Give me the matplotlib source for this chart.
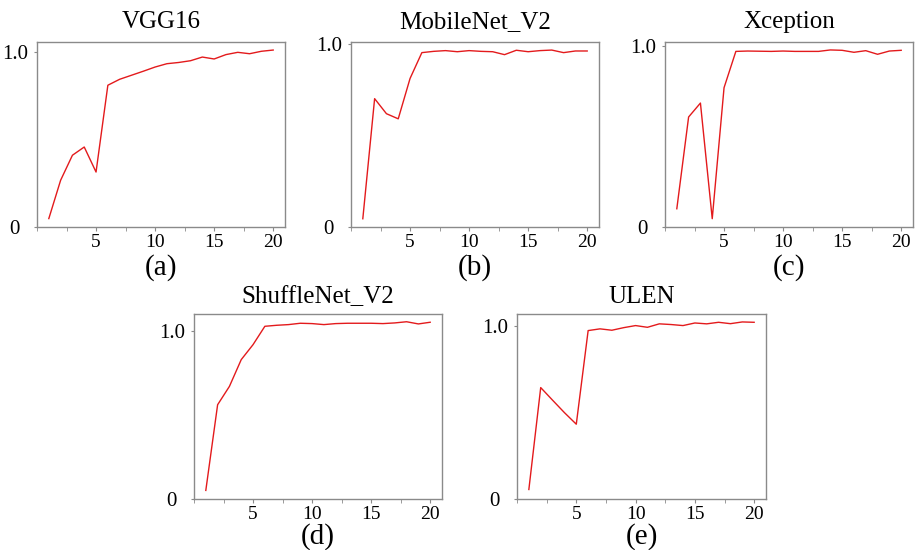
import matplotlib
matplotlib.use("Agg")
import matplotlib.pyplot as plt
from matplotlib.ticker import MultipleLocator

plt.rcParams['font.family'] = ['Liberation Serif', 'DejaVu Serif']

epochs = list(range(1, 21))

vgg16 = [0.048, 0.267, 0.41, 0.457, 0.314, 0.81, 0.844, 0.867, 0.89, 0.914,
         0.933, 0.94, 0.95, 0.971, 0.96, 0.985, 0.998, 0.99, 1.004, 1.011]
mobilenet_v2 = [0.045, 0.70, 0.618, 0.59, 0.81, 0.951, 0.958, 0.962, 0.956, 0.962,
                0.958, 0.956, 0.94, 0.964, 0.956, 0.962, 0.965, 0.951, 0.96, 0.96]
xception = [0.101, 0.609, 0.686, 0.046, 0.771, 0.972, 0.974, 0.973, 0.972, 0.974,
            0.972, 0.972, 0.972, 0.98, 0.978, 0.967, 0.976, 0.956, 0.974, 0.978]
shufflenet_v2 = [0.051, 0.56, 0.669, 0.828, 0.917, 1.026, 1.032, 1.036, 1.044, 1.042,
                 1.036, 1.042, 1.044, 1.044, 1.044, 1.042, 1.046, 1.053, 1.04, 1.05]
ulen = [0.055, 0.645, 0.572, 0.50, 0.433, 0.975, 0.985, 0.977, 0.992, 1.004,
        0.994, 1.014, 1.01, 1.004, 1.019, 1.014, 1.023, 1.015, 1.025, 1.023]

titles = ['VGG16', 'MobileNet_V2', 'Xception', 'ShuffleNet_V2', 'ULEN']
captions = ['(a)', '(b)', '(c)', '(d)', '(e)']
series = [vgg16, mobilenet_v2, xception, shufflenet_v2, ulen]
ytops = [1.057, 1.009, 1.024, 1.099, 1.071]

W, H = 919, 550
# axes boxes in pixels: left, right, top, bottom
boxes = [(37, 285, 42, 227), (351, 599, 42, 227), (665, 913, 42, 227),
         (194, 442, 314, 499), (517, 766, 314, 499)]
title_y = [28, 28, 28, 303, 303]
cap_y = [268, 268, 268, 537, 537]

fig = plt.figure(figsize=(W / 100, H / 100), dpi=100)
red = '#e31a1c'
gray = '#8a8a8a'

for i in range(5):
    l, r, t, b = boxes[i]
    ax = fig.add_axes([l / W, 1 - b / H, (r - l) / W, (b - t) / H])
    ax.plot(epochs, series[i], color=red, lw=1.0)
    ax.set_xlim(0, 21)
    ax.set_ylim(0, ytops[i])
    ax.xaxis.set_major_locator(MultipleLocator(5))
    ax.xaxis.set_minor_locator(MultipleLocator(2.5))
    ax.set_xticks([5, 10, 15, 20])
    ax.set_yticks([0, 1.0])
    ax.set_yticklabels(['0', '1.0'])
    for s in ax.spines.values():
        s.set_color(gray)
        s.set_linewidth(1.0)
    ax.tick_params(axis='x', which='both', direction='out', length=3, color=gray,
                   labelsize=14, pad=2)
    ax.tick_params(axis='y', which='both', direction='out', length=2, color=gray,
                   labelsize=15, pad=14)
    for lab in ax.get_yticklabels():
        lab.set_horizontalalignment('center')
    cx = (l + r) / 2 / W
    fig.text(cx, 1 - title_y[i] / H, titles[i], ha='center', va='baseline', fontsize=18)
    fig.text(cx, 1 - cap_y[i] / H, captions[i], ha='center', va='center', fontsize=21)

fig.savefig('out.png', dpi=100)
